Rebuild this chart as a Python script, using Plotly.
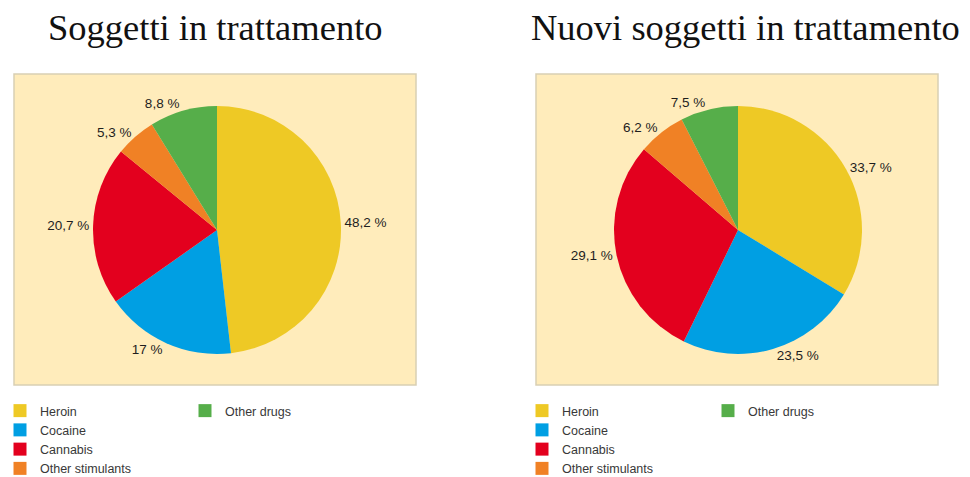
import plotly.graph_objects as go

# Data
drugs = ['Heroin', 'Cocaine', 'Cannabis', 'Other stimulants', 'Other drugs']
colors = ['#EEC925', '#009FE3', '#E3001E', '#F08125', '#56AE4A']
in_treatment = [48.2, 17, 20.7, 5.3, 8.8]
new_in_treatment = [33.7, 23.5, 29.1, 6.2, 7.5]
titles = ['Soggetti in trattamento', 'Nuovi soggetti in trattamento']

# the page body keeps its default 8px margin, so the figure is drawn
# 8px in from the top-left of the window
PAGE_W, PAGE_H = 970, 477
OFF = 8
W, H = PAGE_W - OFF, PAGE_H - OFF


def px_x(x):
    return (x - OFF) / W


def px_y(y):
    return 1 - (y - OFF) / H


def pct_text(values):
    # Italian decimal comma
    return [f'{v:g}'.replace('.', ',') + ' %' for v in values]


fig = go.Figure()

# pies: center / radius in page pixels
pies = [
    (in_treatment, 217, 230, 124),
    (new_in_treatment, 738, 230, 124),
]
for values, cx, cy, r in pies:
    fig.add_trace(go.Pie(
        labels=drugs,
        values=values,
        text=pct_text(values),
        textinfo='text',
        textposition='outside',
        outsidetextfont=dict(family='Liberation Sans, Arial, sans-serif', size=13.5, color='#1e1e1e'),
        marker=dict(colors=colors, line=dict(width=0)),
        sort=False,
        direction='clockwise',
        rotation=0,
        showlegend=False,
        hoverinfo='label+text',
        domain=dict(x=[px_x(cx - 150), px_x(cx + 150)], y=[px_y(cy + r), px_y(cy - r)])
    ))

# legend entries (dummy traces so the legend can be split into two columns)
legend_cols = [
    ('legend', drugs[:4], colors[:4]),
    ('legend2', drugs[4:], colors[4:]),
    ('legend3', drugs[:4], colors[:4]),
    ('legend4', drugs[4:], colors[4:]),
]
for leg, names, cols in legend_cols:
    for name, c in zip(names, cols):
        fig.add_trace(go.Scatter(
            x=[None], y=[None],
            mode='markers',
            name=name,
            marker=dict(symbol='square', size=13, color=c),
            legend=leg,
            hoverinfo='skip'
        ))

legend_style = dict(
    font=dict(family='Liberation Sans, Arial, sans-serif', size=12.5, color='#383838'),
    bgcolor='rgba(0,0,0,0)',
    xanchor='left', yanchor='top',
    orientation='v',
    borderwidth=0,
)

# beige panels behind the pies
panels = [(14, 74, 416, 385), (536, 74, 938, 385)]
shapes = []
for x0, y0, x1, y1 in panels:
    shapes.append(dict(
        type='rect', xref='paper', yref='paper',
        x0=px_x(x0), x1=px_x(x1), y0=px_y(y1), y1=px_y(y0),
        fillcolor='#FFECBB', line=dict(color='#D9CFB4', width=1.5),
        layer='below'
    ))

annotations = []
for title, cx in zip(titles, [215, 745]):
    annotations.append(dict(
        text=title, x=px_x(cx), y=px_y(28), xref='paper', yref='paper',
        xanchor='center', yanchor='middle', showarrow=False,
        font=dict(family='Liberation Serif, Times New Roman, serif', size=36.5, color='#111111')
    ))

legend_top = px_y(396)
fig.update_layout(
    width=W, height=H,
    margin=dict(l=0, r=0, t=0, b=0, autoexpand=False),
    paper_bgcolor='white',
    plot_bgcolor='rgba(0,0,0,0)',
    xaxis=dict(visible=False),
    yaxis=dict(visible=False),
    shapes=shapes,
    annotations=annotations,
    legend=dict(x=px_x(0), y=legend_top, **legend_style),
    legend2=dict(x=px_x(185), y=legend_top, **legend_style),
    legend3=dict(x=px_x(522), y=legend_top, **legend_style),
    legend4=dict(x=px_x(708), y=legend_top, **legend_style),
)

fig.write_html('out.html')
